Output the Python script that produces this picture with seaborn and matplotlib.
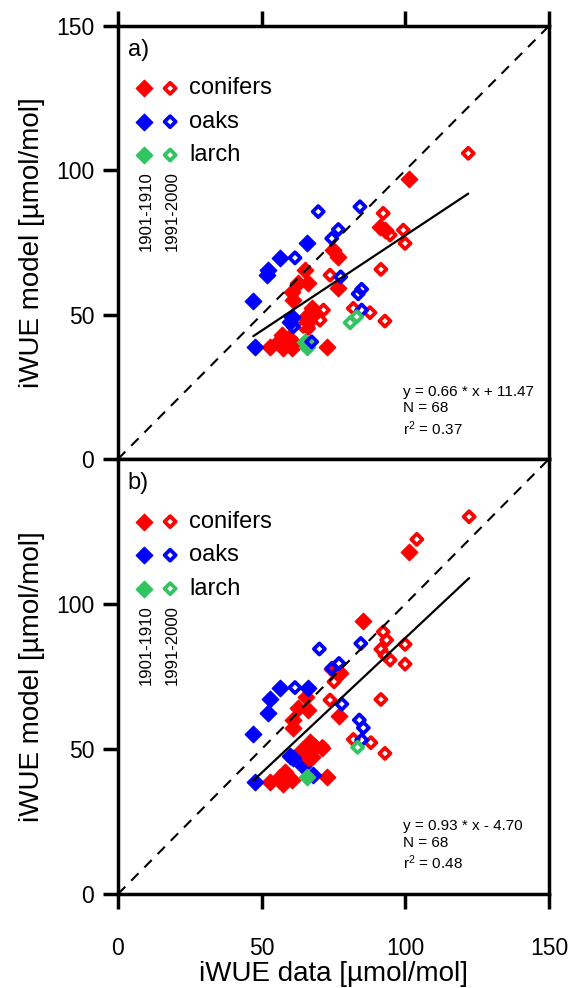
import numpy as np
import pandas as pd
import matplotlib
matplotlib.use("Agg")
import matplotlib.pyplot as plt
import seaborn as sns

# panel a) model vs data
a_con_early_x = [101.3, 91.2, 92.9, 74.9, 76.7, 76.7, 65.1, 62.8, 66.3, 60.5, 61.0, 67.4,
                 68.6, 65.1, 66.3, 52.9, 55.8, 57.5, 60.5, 61.6, 72.6, 57.0, 59.5]
a_con_early_y = [97.0, 80.5, 79.3, 72.4, 70.1, 59.1, 65.5, 60.9, 60.9, 58.0, 55.1, 52.2,
                 50.5, 48.7, 47.6, 38.9, 40.6, 38.3, 38.3, 40.0, 38.9, 43.0, 42.0]
a_con_late_x = [121.9, 92.3, 94.7, 99.3, 99.9, 73.8, 91.5, 81.9, 87.7, 92.9, 71.5, 70.3, 66.3, 64.5]
a_con_late_y = [105.9, 85.1, 77.6, 79.3, 74.7, 63.7, 65.7, 52.2, 50.7, 47.8, 51.6, 48.1, 45.3, 46.0]
a_oak_early_x = [65.7, 56.4, 52.3, 51.8, 47.1, 60.5, 59.9, 47.7]
a_oak_early_y = [74.7, 69.7, 65.5, 63.7, 54.7, 49.3, 47.6, 38.9]
a_oak_late_x = [69.7, 84.2, 76.7, 74.4, 61.6, 77.5, 84.8, 83.6, 84.8, 61.0, 67.4]
a_oak_late_y = [85.7, 87.4, 79.5, 76.4, 69.7, 63.1, 58.8, 57.2, 51.6, 45.8, 40.6]
a_larch_early_x = [65.1, 65.7]
a_larch_early_y = [40.6, 38.9]
a_larch_late_x = [80.8, 83.1]
a_larch_late_y = [47.2, 49.3]

# panel b)
b_con_early_x = [101.4, 85.2, 77.3, 74.6, 77.0, 65.3, 62.8, 66.3, 61.0, 61.0, 66.8, 68.6,
                 70.9, 63.9, 67.4, 52.9, 56.4, 58.1, 60.5, 57.5, 72.6]
b_con_early_y = [118.0, 94.2, 76.1, 77.5, 61.4, 68.0, 64.0, 63.4, 60.0, 57.1, 52.5, 50.8,
                 50.2, 49.7, 47.3, 38.7, 40.4, 42.1, 39.3, 38.1, 40.4]
b_con_late_x = [122.2, 104.0, 92.3, 93.5, 99.9, 91.5, 94.7, 92.9, 99.9, 75.2, 73.8, 91.5,
                81.9, 88.0, 92.9, 71.2, 66.6]
b_con_late_y = [130.1, 122.3, 90.4, 87.6, 86.1, 84.4, 80.7, 82.4, 79.3, 73.2, 66.9, 67.1,
                53.3, 52.2, 48.5, 50.8, 46.4]
b_oak_early_x = [56.4, 66.0, 52.9, 52.3, 47.1, 59.9, 61.0, 64.5, 68.0, 47.7]
b_oak_early_y = [71.2, 70.9, 67.1, 62.3, 55.2, 47.6, 46.8, 44.1, 41.0, 38.7]
b_oak_late_x = [84.5, 70.1, 76.9, 74.4, 61.6, 77.9, 84.0, 85.4, 84.8]
b_oak_late_y = [86.4, 84.5, 79.5, 77.8, 71.2, 65.5, 60.0, 57.3, 53.1]
b_larch_early_x = [65.7]
b_larch_early_y = [40.4]
b_larch_late_x = [83.4]
b_larch_late_y = [50.6]

groups = ["conifers", "oaks", "larch"]
periods = ["1901-1910", "1991-2000"]
colors = {"conifers": "#ff0000", "oaks": "#0000ff", "larch": "#33c462"}

slopes = [0.66, 0.93]
intercepts = [11.47, -4.70]
n_obs = [68, 68]
r2 = [0.37, 0.48]
panel_labels = ["a)", "b)"]


def make_df(series):
    rows = []
    for (grp, per), (xs, ys) in series.items():
        for x, y in zip(xs, ys):
            rows.append({"x": x, "y": y, "group": grp, "period": per})
    return pd.DataFrame(rows)


df_a = make_df({
    ("conifers", "1901-1910"): (a_con_early_x, a_con_early_y),
    ("oaks", "1901-1910"): (a_oak_early_x, a_oak_early_y),
    ("larch", "1901-1910"): (a_larch_early_x, a_larch_early_y),
    ("conifers", "1991-2000"): (a_con_late_x, a_con_late_y),
    ("oaks", "1991-2000"): (a_oak_late_x, a_oak_late_y),
    ("larch", "1991-2000"): (a_larch_late_x, a_larch_late_y),
})
df_b = make_df({
    ("conifers", "1901-1910"): (b_con_early_x, b_con_early_y),
    ("oaks", "1901-1910"): (b_oak_early_x, b_oak_early_y),
    ("larch", "1901-1910"): (b_larch_early_x, b_larch_early_y),
    ("conifers", "1991-2000"): (b_con_late_x, b_con_late_y),
    ("oaks", "1991-2000"): (b_oak_late_x, b_oak_late_y),
    ("larch", "1991-2000"): (b_larch_late_x, b_larch_late_y),
})

sns.set_style("ticks")
plt.rcParams["font.family"] = ["Liberation Sans", "DejaVu Sans"]
plt.rcParams["mathtext.default"] = "regular"
for key in ["text.color", "axes.labelcolor", "xtick.color", "ytick.color", "axes.edgecolor"]:
    plt.rcParams[key] = "black"

fig = plt.figure(figsize=(5.73, 9.88), dpi=100)
ax_a = fig.add_axes([0.2059, 0.5354, 0.7522, 0.4383])
ax_b = fig.add_axes([0.2059, 0.0951, 0.7522, 0.4403])

filled_s = 70
open_s = 32
open_lw = 2.7

for i, (ax, df) in enumerate([(ax_a, df_a), (ax_b, df_b)]):
    for per in periods:
        for grp in groups:
            sub = df[(df["group"] == grp) & (df["period"] == per)]
            c = colors[grp]
            if per == "1901-1910":
                sns.scatterplot(data=sub, x="x", y="y", ax=ax, marker="D", s=filled_s,
                                color=c, edgecolor=c, linewidth=1, zorder=3)
            else:
                sns.scatterplot(data=sub, x="x", y="y", ax=ax, marker="D", s=open_s,
                                facecolors="none", edgecolor=c, linewidth=open_lw, zorder=4)

    # 1:1 line and regression line
    ax.plot([0, 150], [0, 150], color="black", lw=1.5, dashes=(5, 4), zorder=5)
    xr = np.array([df["x"].min(), df["x"].max()])
    ax.plot(xr, slopes[i] * xr + intercepts[i], color="black", lw=1.6, zorder=5)

    ax.set_xlim(0, 150)
    ax.set_ylim(0, 150)
    ax.set_xlabel("")
    ax.set_ylabel("iWUE model [\u00b5mol/mol]", fontsize=20, labelpad=8)
    for sp in ax.spines.values():
        sp.set_linewidth(2.5)
    ax.tick_params(length=11, width=2.5, labelsize=16.5)
    ax.tick_params(axis="y", pad=6)

    ax.text(0.023, 0.945, panel_labels[i], transform=ax.transAxes, fontsize=17,
            ha="left", va="center")

    # legend made of two marker columns
    for j, grp in enumerate(groups):
        yy = 0.856 - j * 0.077
        c = colors[grp]
        ax.scatter([0.061], [yy], transform=ax.transAxes, marker="D", s=filled_s,
                   color=c, edgecolor=c, linewidth=1, clip_on=False)
        ax.scatter([0.121], [yy], transform=ax.transAxes, marker="D", s=open_s,
                   facecolors="none", edgecolors=c, linewidth=open_lw, clip_on=False)
        ax.text(0.165, yy, grp, transform=ax.transAxes, fontsize=17, ha="left", va="center")
    ax.text(0.066, 0.48, periods[0], transform=ax.transAxes, rotation=90, fontsize=12,
            ha="center", va="bottom")
    ax.text(0.127, 0.48, periods[1], transform=ax.transAxes, rotation=90, fontsize=12,
            ha="center", va="bottom")

    sign = "+" if intercepts[i] >= 0 else "-"
    ax.text(0.661, 0.172,
            f"y = {slopes[i]:.2f} * x {sign} {abs(intercepts[i]):.2f}\nN = {n_obs[i]}\nr$^2$ = {r2[i]:.2f}",
            transform=ax.transAxes, fontsize=11, ha="left", va="top", linespacing=1.25)

# panel a: ticks on top, no x labels
ax_a.xaxis.tick_top()
ax_a.set_xticks([0, 50, 100, 150])
ax_a.set_xticklabels([])
ax_a.set_yticks([0, 50, 100, 150])

ax_b.set_xticks([0, 50, 100, 150])
ax_b.set_yticks([0, 50, 100])
ax_b.tick_params(axis="x", pad=20)
ax_b.set_xlabel("iWUE data [\u00b5mol/mol]", fontsize=20, labelpad=1)

fig.savefig("out.png", dpi=100)
